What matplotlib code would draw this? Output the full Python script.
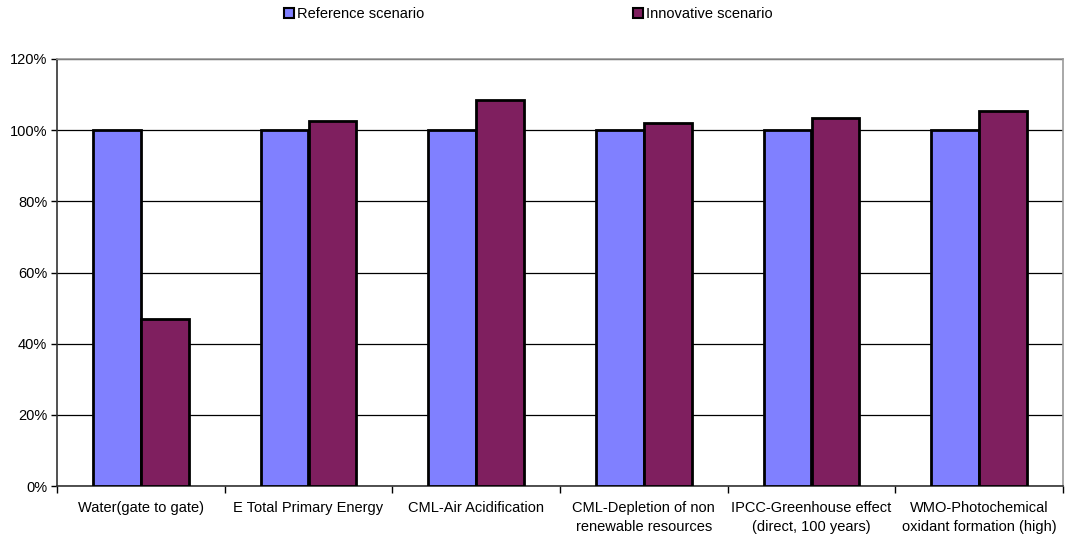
import numpy as np
import matplotlib.pyplot as plt
from matplotlib.patches import Patch

plt.rcParams['font.family'] = ['Liberation Sans', 'DejaVu Sans']

# data
categories = ['Water(gate to gate)', 'E Total Primary Energy', 'CML-Air Acidification',
              'CML-Depletion of non\nrenewable resources', 'IPCC-Greenhouse effect\n(direct, 100 years)',
              'WMO-Photochemical\noxidant formation (high)']
reference = [100, 100, 100, 100, 100, 100]
innovative = [47.0, 102.6, 108.4, 101.9, 103.4, 105.4]
yticks = [0, 20, 40, 60, 80, 100, 120]

c_ref = '#8080FF'
c_inn = '#7F1F5F'
fs = 10.5

fig = plt.figure(figsize=(10.74, 5.42), dpi=100)
ax = fig.add_axes([57/1074, 1-486/542, (1063-57)/1074, (486-59)/542])

x = np.arange(len(categories))
w = 0.285
ax.bar(x - w/2, reference, w, color=c_ref, edgecolor='black', linewidth=2, zorder=3)
ax.bar(x + w/2, innovative, w, color=c_inn, edgecolor='black', linewidth=2, zorder=3)

ax.set_xlim(-0.5, len(categories) - 0.5)
ax.set_ylim(0, 120)
ax.set_yticks(yticks)
ax.set_yticklabels([f'{v}%' for v in yticks], fontsize=fs)
ax.yaxis.grid(True, color='black', linewidth=0.9, zorder=0)

ax.set_xticks(x)
ax.set_xticklabels(categories, fontsize=fs, linespacing=1.45)
ax.set_xticks(np.arange(len(categories) + 1) - 0.5, minor=True)
ax.tick_params(axis='x', which='major', length=0, pad=11)
ax.tick_params(axis='x', which='minor', length=5, width=1)
ax.tick_params(axis='y', length=4, width=1, pad=3)

ax.spines['left'].set_color('#333333')
ax.spines['bottom'].set_color('#333333')
ax.spines['top'].set_color('#999999')
ax.spines['right'].set_color('#999999')
for s in ax.spines.values():
    s.set_linewidth(1.2)

handles = [Patch(facecolor=c_ref, edgecolor='black', linewidth=1.5, label='Reference scenario'),
           Patch(facecolor=c_inn, edgecolor='black', linewidth=1.5, label='Innovative scenario')]
fig.legend(handles=handles, loc='center', bbox_to_anchor=(0.492, 1 - 14/542), ncol=2,
           frameon=False, fontsize=fs, handlelength=0.7, handleheight=0.7,
           handletextpad=0.2, columnspacing=14.3)

fig.savefig('out.png', dpi=100)
